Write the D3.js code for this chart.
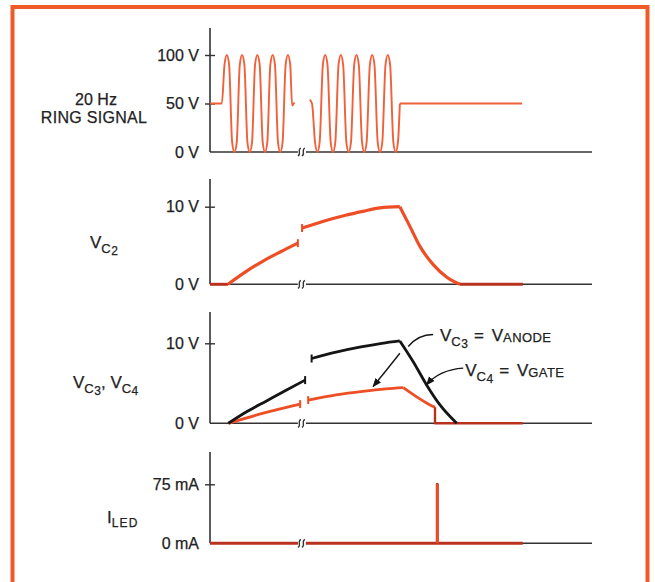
<!DOCTYPE html>
<html><head><meta charset="utf-8">
<script src="https://cdn.jsdelivr.net/npm/d3@7"></script>
<style>
html,body{margin:0;padding:0;background:#fff;}
svg text{font-family:"Liberation Sans",Arial,sans-serif;fill:#222;stroke:#222;stroke-width:0.25px;}
</style></head><body><svg id="c" width="655" height="582"></svg>
<script>
// ---------- data ----------
const timeDomain = [0, 100];          // relative time units
const axisBreak = [23.0, 25.1];       // broken time axis
const ringTicks = [0, 50, 100];
const vcTicks = [0, 10];
const ledTicks = [0, 75];

// 20 Hz ring signal (V): two bursts, then idle at 50 V
const ringBurst1 = [[0,50],[3.1,50],[3.8,90],[4.4,100],[5.0,90],[5.8,10],[6.4,0],[7.0,10],[7.8,90],[8.4,100],[9.0,90],[9.8,10],[10.4,0],[11.0,10],[11.8,90],[12.4,100],[13.0,90],[13.8,10],[14.4,0],[15.0,10],[15.8,90],[16.4,100],[17.0,90],[17.8,10],[18.4,0],[19.0,10],[19.8,90],[20.4,100],[21.0,90],[21.5,48],[22.1,51]];
const ringBurst2 = [[26.1,54],[26.7,50],[27.5,10],[28.1,0],[28.7,10],[29.55,90],[30.15,100],[30.75,90],[31.6,10],[32.2,0],[32.8,10],[33.65,90],[34.25,100],[34.85,90],[35.7,10],[36.3,0],[36.9,10],[37.75,90],[38.35,100],[38.95,90],[39.8,10],[40.4,0],[41.0,10],[41.85,90],[42.45,100],[43.05,90],[43.9,10],[44.5,0],[45.1,10],[45.95,90],[46.55,100],[47.15,90],[48.0,10],[48.6,0],[49.2,10],[49.7,50]];
const ringIdle = [[49.7,50],[81.7,50]];

// V_C2 (V)
const vc2Flat0 = [[0,0],[4.7,0]];
const vc2Rise1 = [[4.7,0],[9.3,1.6],[13.9,3.0],[18.5,4.2],[23.0,5.3]];
const vc2Rise2 = [[24.1,7.25],[29.5,8.1],[35.5,8.9],[40.0,9.4],[44.5,9.85],[49.7,10]];
const vc2Fall = [[49.7,10],[52.4,7.4],[55.0,4.85],[58.5,2.5],[62.0,0.9],[65.4,0]];
const vc2Flat1 = [[65.4,0],[81.9,0]];

// V_C3 = V_ANODE (V)
const vc3Rise1 = [[4.8,0],[9.8,1.5],[14.8,2.8],[19.8,4.1],[24.9,5.4]];
const vc3Rise2 = [[26.6,8.1],[33,8.9],[39.5,9.55],[45,10.0],[49.7,10.3]];
const vc3Fall = [[49.7,10.3],[53.2,7.7],[56.7,4.8],[60.2,2.3],[64.6,0]];

// V_C4 = V_GATE (V)
const vc4Rise1 = [[4.8,0],[14.2,1.3],[23.6,2.4]];
const vc4Rise2 = [[25.7,2.9],[33,3.55],[40,4.0],[46,4.3],[50.6,4.45]];
const vc4Fall = [[50.6,4.45],[54.1,3.3],[57.6,2.3],[58.9,2.0]];
const vc4Drop = [[58.9,2.0],[58.9,0],[81.9,0]];

// I_LED (mA)
const led1 = [[0,0],[23.0,0]];
const led2 = [[25.1,0],[59.5,0],[59.5,75],[59.5,0],[81.9,0]];

// ---------- drawing ----------
const RED = "#ee4e25", RING = "#f0603a", DARKRED = "#b8321e", BLACK = "#151515", AXIS = "#333";
const svg = d3.select("#c");

// orange frame
svg.append("rect").attr("x",12.5).attr("y",7).attr("width",635).attr("height",600)
  .attr("fill","none").attr("stroke","#f05a28").attr("stroke-width",4);

const x = d3.scaleLinear().domain(timeDomain).range([210, 592]);

function makePanel(domain, range, top, ticks, unit) {
  const y = d3.scaleLinear().domain(domain).range(range);
  const g = svg.append("g");
  const base = y(0);
  g.append("line").attr("x1",x(0)).attr("x2",x(0)).attr("y1",top).attr("y2",base)
    .attr("stroke",AXIS).attr("stroke-width",1.6);
  [[timeDomain[0],axisBreak[0]],[axisBreak[1],timeDomain[1]]].forEach(s=>{
    g.append("line").attr("x1",x(s[0])).attr("x2",x(s[1])).attr("y1",base).attr("y2",base)
      .attr("stroke",AXIS).attr("stroke-width",1.6);
  });
  [x(axisBreak[0])+1.5, x(axisBreak[0])+5.5].forEach(bx=>{
    g.append("path").attr("d",`M${bx-1.5},${base+4} C${bx+2.5},${base+2} ${bx-2.5},${base-2} ${bx+1.5},${base-4}`)
      .attr("fill","none").attr("stroke",AXIS).attr("stroke-width",1.3);
  });
  const ax = d3.axisLeft(y).tickValues(ticks).tickSize(0).tickPadding(11).tickFormat(d=>d+" "+unit);
  const ag = g.append("g").attr("transform",`translate(${x(0)},0)`).call(ax);
  ag.select(".domain").remove();
  ag.selectAll(".tick text").attr("font-size",16).attr("font-family","Liberation Sans, Arial, sans-serif")
    .attr("fill","#222").attr("stroke","#222").attr("stroke-width",0.25);
  ag.selectAll(".tick").filter(d=>d!==0).append("line").attr("x1",-5).attr("x2",5)
    .attr("stroke",AXIS).attr("stroke-width",1.4);
  return {g, y};
}

function lineFor(y, pts){
  let vertical = false;
  for (let i=1;i<pts.length;i++) if (pts[i][0]===pts[i-1][0]) vertical = true;
  return d3.line().x(d=>x(d[0])).y(d=>y(d[1]))
    .curve(vertical || pts.length<3 ? d3.curveLinear : d3.curveMonotoneX)(pts);
}
function draw(p, pts, color, w){
  p.g.append("path").attr("d",lineFor(p.y, pts)).attr("fill","none")
    .attr("stroke",color).attr("stroke-width",w).attr("stroke-linejoin","round").attr("stroke-linecap","butt");
}
function cap(p, pt, color, w){
  const cx = x(pt[0]), cy = p.y(pt[1]);
  p.g.append("line").attr("x1",cx).attr("x2",cx).attr("y1",cy-4).attr("y2",cy+4)
    .attr("stroke",color).attr("stroke-width",w);
}

// Panel 1: ring signal
const p1 = makePanel([0,100],[152,55],28,ringTicks,"V");
draw(p1, ringBurst1, RING, 1.9);
draw(p1, ringBurst2, RING, 1.9);
draw(p1, ringIdle, RING, 2.2);

// Panel 2: V_C2
const p2 = makePanel([0,10],[284.3,206.7],179,vcTicks,"V");
draw(p2, vc2Flat0, DARKRED, 3);
draw(p2, vc2Rise1, RED, 3.2);
draw(p2, vc2Rise2, RED, 3.2);
draw(p2, vc2Fall, RED, 3.2);
draw(p2, vc2Flat1, DARKRED, 3);
cap(p2, vc2Rise1[vc2Rise1.length-1], RED, 2);
cap(p2, vc2Rise2[0], RED, 2);

// Panel 3: V_C3, V_C4
const p3 = makePanel([0,10],[423.3,343.3],312,vcTicks,"V");
draw(p3, vc4Rise1, RED, 2.8);
draw(p3, vc4Rise2, RED, 2.8);
draw(p3, vc4Fall, RED, 2.8);
draw(p3, vc4Drop, DARKRED, 2.4);
draw(p3, vc3Rise1, BLACK, 2.8);
draw(p3, vc3Rise2, BLACK, 2.8);
draw(p3, vc3Fall, BLACK, 2.8);
cap(p3, vc4Rise1[vc4Rise1.length-1], RED, 2);
cap(p3, vc4Rise2[0], RED, 2);
cap(p3, vc3Rise1[vc3Rise1.length-1], BLACK, 2);
cap(p3, vc3Rise2[0], BLACK, 2);

// Panel 4: I_LED
const p4 = makePanel([0,75],[543.3,484.3],452,ledTicks,"mA");
draw(p4, led1, DARKRED, 3);
draw(p4, led2, DARKRED, 3);
p4.g.append("line").attr("x1",x(59.5)).attr("x2",x(59.5)).attr("y1",p4.y(75)).attr("y2",p4.y(0))
  .attr("stroke",RED).attr("stroke-width",2.4);

// annotation arrows (panel 3)
const defs = svg.append("defs");
defs.append("marker").attr("id","ah").attr("viewBox","0 0 10 10").attr("refX",9).attr("refY",5)
  .attr("markerWidth",9).attr("markerHeight",9).attr("orient","auto-start-reverse").attr("markerUnits","userSpaceOnUse")
  .append("path").attr("d","M0,1 L10,5 L0,9 Z").attr("fill",BLACK);
const X = t=>x(t), Y3 = v=>p3.y(v);
p3.g.append("path").attr("d",`M${X(58.4)},${Y3(11.1)} Q${X(54.5)},${Y3(11.1)} ${X(51.9)},${Y3(9.6)}`)
  .attr("fill","none").attr("stroke",BLACK).attr("stroke-width",1.4);
p3.g.append("path").attr("d",`M${X(49.7)},${Y3(8.75)} Q${X(46)},${Y3(6.5)} ${X(42.7)},${Y3(4.6)}`)
  .attr("fill","none").attr("stroke",BLACK).attr("stroke-width",1.4).attr("marker-end","url(#ah)");
p3.g.append("path").attr("d",`M${X(66.3)},${Y3(6.9)} Q${X(60)},${Y3(6.7)} ${X(56.7)},${Y3(4.8)}`)
  .attr("fill","none").attr("stroke",BLACK).attr("stroke-width",1.4).attr("marker-end","url(#ah)");

// ---------- text labels ----------
function label(xp, yp, parts, anchor){
  const t = svg.append("text").attr("x",xp).attr("y",yp).attr("text-anchor",anchor||"start").attr("font-size",16);
  parts.forEach(([s, fs, dy, ls])=>{
    const sp = t.append("tspan").attr("font-size",fs).attr("dy",dy).text(s);
    if (ls) sp.attr("letter-spacing",ls);
  });
  return t;
}
label(96,105,[["20 Hz",16,0]],"middle");
label(94,123,[["RING SIGNAL",16,0,0.3]],"middle");
label(90,248,[["V",17,0],["C",13,5,0.5],["2",12,2]]);
label(73,388,[["V",17,0],["C",13,5,0.5],["3",12,2],[", ",17,-7],["V",17,0],["C",13,5,0.5],["4",12,2]]);
label(107,523,[["I",17,0],["LED",12,4,1.2]]);
label(X(60.2),Y3(10.3),[["V",17,0],["C",13,5,0.5],["3",12,2],["  =  ",17,-7,1.5],["V",17,0],["ANODE",13,1,0.4]]);
label(X(66.8),Y3(5.9),[["V",17,0],["C",13,5,0.5],["4",12,2],["  =  ",17,-7,1.5],["V",17,0],["GATE",13,1,0.4]]);
</script></body></html>
